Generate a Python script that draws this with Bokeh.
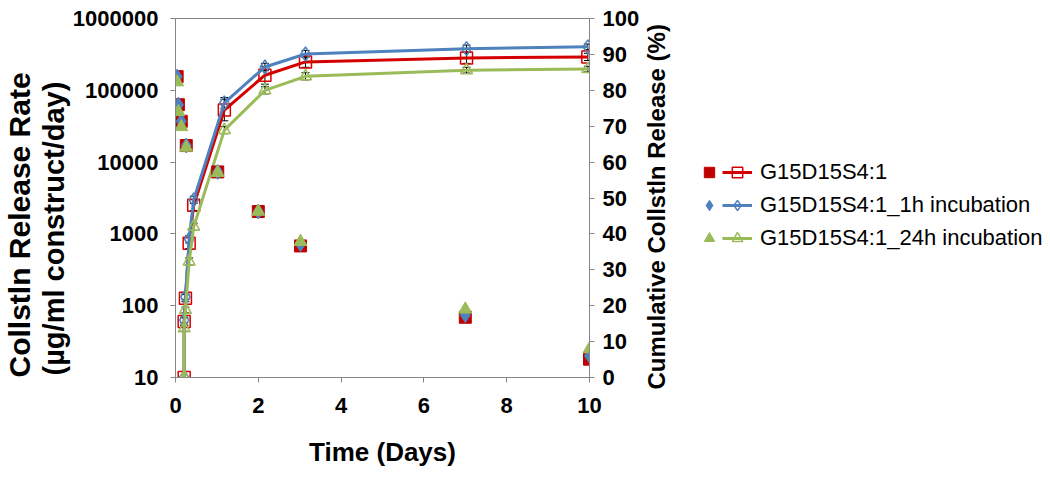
from bokeh.plotting import figure
from bokeh.layouts import row
from bokeh.models import (Range1d, LinearAxis, LinearScale, SingleIntervalTicker, FixedTicker,
                          PrintfTickFormatter, Legend, LegendItem, Whisker, TeeHead,
                          ColumnDataSource, Title)
from bokeh.embed import file_html
from bokeh.resources import INLINE

# ---- data ----
rate_days = [0.04, 0.07, 0.14, 0.26, 1.02, 2.0, 3.02, 7.0, 10.0]
rate_red = [155000, 63000, 37000, 17000, 7300, 2050, 680, 69, 18]
rate_blue = [155000, 63000, 37000, 17000, 7300, 2050, 720, 74, 20]
rate_green = [130000, 50000, 31000, 16000, 7100, 2050, 780, 89, 25]

cum_days = [0.21, 0.21, 0.24, 0.33, 0.44, 1.18, 2.16, 3.14, 7.03, 9.96]
cum_red = [0, 15.6, 22.1, 37.4, 48.0, 74.5, 84.2, 87.9, 89.0, 89.3]
cum_blue = [0, 16.0, 22.5, 38.5, 49.5, 76.5, 86.5, 90.1, 91.6, 92.1]
cum_green = [0, 13.7, 18.8, 32.3, 42.0, 68.9, 80.0, 83.9, 85.6, 85.9]
err_red = [0, 1.0, 1.0, 1.5, 1.5, 3.0, 2.5, 1.5, 1.5, 1.0]
err_blue = [0, 0.8, 0.8, 1.0, 1.0, 1.5, 1.0, 1.0, 1.0, 0.8]
err_green = [0, 0.8, 0.8, 1.0, 1.0, 1.0, 1.0, 1.0, 0.8, 0.8]

labels = ["G15D15S4:1", "G15D15S4:1_1h incubation", "G15D15S4:1_24h incubation"]
x_ticks = [0, 2, 4, 6, 8, 10]
left_ticks = [10, 100, 1000, 10000, 100000, 1000000]

RED, RED_L = "#C00000", "#D40000"
BLUE, BLUE_L = "#4F81BD", "#4F81BD"
GREEN, GREEN_L = "#9BBB59", "#9BBB59"
FONT = "Liberation Sans"
AX = "#868686"

p = figure(frame_width=414, frame_height=359, min_border_left=174, min_border_top=18,
           min_border_bottom=100, min_border_right=53,
           x_range=Range1d(0, 10), y_range=Range1d(10, 1000000), y_axis_type="log",
           output_backend="svg", toolbar_location=None)
p.extra_y_ranges = {"cum": Range1d(0, 100)}
p.extra_y_scales = {"cum": LinearScale()}
p.grid.visible = False
p.outline_line_color = AX
p.background_fill_color = "white"
p.border_fill_color = "white"

def style_axis(ax):
    ax.axis_line_color = AX
    ax.major_tick_line_color = AX
    ax.minor_tick_line_color = None
    ax.major_tick_in = 0
    ax.major_tick_out = 5
    ax.major_label_text_font = FONT
    ax.major_label_text_font_style = "bold"
    ax.major_label_text_font_size = "22px"
    ax.major_label_text_color = "black"
    ax.axis_label_text_font = FONT
    ax.axis_label_text_font_style = "bold"
    ax.axis_label_text_color = "black"

xa = p.xaxis[0]
style_axis(xa)
xa.ticker = FixedTicker(ticks=x_ticks)
xa.axis_label = "Time (Days)"
xa.axis_label_text_font_size = "26px"
xa.major_label_standoff = 15
xa.axis_label_standoff = 21

ya = p.yaxis[0]
style_axis(ya)
ya.ticker = FixedTicker(ticks=left_ticks)
ya.formatter = PrintfTickFormatter(format="%d")
ya.major_label_standoff = 12

for txt, off, fs in [("(µg/ml construct/day)", 2, "29px"), ("Collstln Release Rate", 0, "30px")]:
    t = Title(text=txt, align="left", offset=off, standoff=0,
              text_font=FONT, text_font_style="bold", text_font_size=fs,
              text_color="black")
    p.add_layout(t, "left")

ra = LinearAxis(y_range_name="cum", ticker=SingleIntervalTicker(interval=10))
style_axis(ra)
ra.major_label_standoff = 8
p.add_layout(ra, "right")

# cumulative lines + open markers
styles = [(RED, RED_L, "square", 12), (BLUE, BLUE_L, "diamond", 14),
          (GREEN, GREEN_L, "triangle", 12)]
cum_sets = [(cum_red, err_red), (cum_blue, err_blue), (cum_green, err_green)]
for (vals, errs), (fc, lc, mk, sz) in zip(cum_sets, styles):
    p.line(cum_days, vals, line_color=lc, line_width=3, y_range_name="cum")
    p.scatter(cum_days, vals, marker=mk, size=sz, line_color=lc, fill_alpha=0,
              line_width=1.5, y_range_name="cum")
    src = ColumnDataSource(dict(x=cum_days, up=[v + e for v, e in zip(vals, errs)],
                                lo=[v - e for v, e in zip(vals, errs)]))
    w = Whisker(base="x", upper="up", lower="lo", source=src, y_range_name="cum",
                line_color="black", line_width=1,
                upper_head=TeeHead(size=8, line_color="black", line_width=1),
                lower_head=TeeHead(size=8, line_color="black", line_width=1))
    p.add_layout(w)

# release rate filled markers
rate_sets = [rate_red, rate_blue, rate_green]
for vals, (fc, lc, mk, sz) in zip(rate_sets, styles):
    p.scatter(rate_days, vals, marker=mk, size=sz + 1 if mk != "square" else sz, color=fc)

# ---- side panel: right axis title + legend (view range excludes data, so
#      only the legend glyphs of these renderers are visible) ----
q = figure(frame_width=372, frame_height=359, min_border_left=0, min_border_top=18,
           min_border_bottom=100, min_border_right=0,
           x_range=Range1d(-2, -1), y_range=Range1d(-2, -1),
           x_axis_location=None, y_axis_location=None,
           output_backend="svg", toolbar_location=None)
q.grid.visible = False
q.outline_line_color = None
q.border_fill_color = "white"
q.background_fill_color = "white"
q.add_layout(Title(text="Cumulative Collstln Release (%)", align="left", offset=-12,
                   standoff=0, vertical_align="top", text_font=FONT,
                   text_font_style="bold", text_font_size="24px",
                   text_color="black"), "left")

filled_items, line_items = [], []
for lab, rv, cv, (fc, lc, mk, sz) in zip(labels, rate_sets, [c[0] for c in cum_sets], styles):
    fr = q.scatter(rate_days, rv, marker=mk, color=fc)
    lr = q.line(cum_days, cv, line_color=lc, line_width=3)
    orr = q.scatter(cum_days, cv, marker=mk, line_color=lc, fill_alpha=0, line_width=1.5)
    filled_items.append(LegendItem(label=" ", renderers=[fr]))
    line_items.append(LegendItem(label=lab, renderers=[lr, orr]))

leg1 = Legend(items=filled_items, location=(25, 126), glyph_width=26, glyph_height=26,
              label_width=0, label_standoff=0, spacing=7, padding=0, margin=0,
              label_text_font=FONT, label_text_font_size="22px",
              border_line_color=None, background_fill_alpha=0)
leg2 = Legend(items=line_items, location=(51, 126), glyph_width=30, glyph_height=26,
              label_standoff=8, spacing=7, padding=0, margin=0,
              label_text_font=FONT, label_text_font_size="22px", label_text_color="black",
              border_line_color=None, background_fill_alpha=0)
q.add_layout(leg1, "center")
q.add_layout(leg2, "center")

layout = row(p, q, spacing=0)
open("out.html", "w").write(file_html(layout, INLINE))
